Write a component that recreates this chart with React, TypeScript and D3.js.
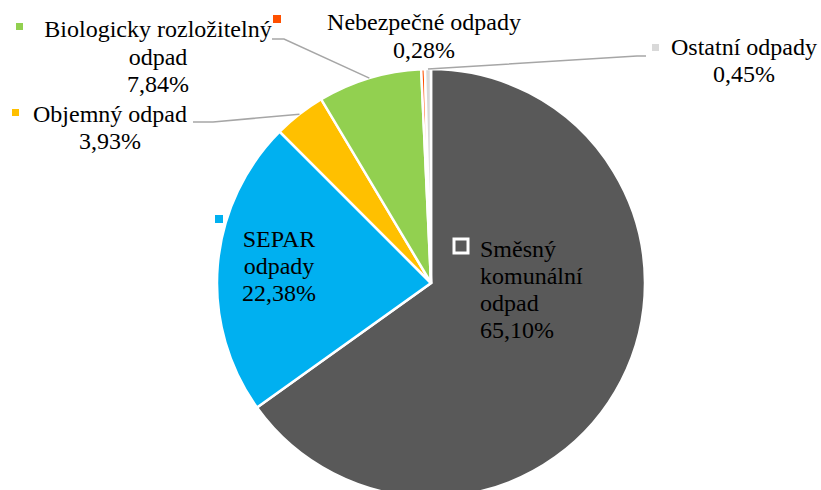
import React from "react";
import * as d3 from "d3";

const categories = [
  "Směsný komunální odpad",
  "SEPAR odpady",
  "Objemný odpad",
  "Biologicky rozložitelný odpad",
  "Nebezpečné odpady",
  "Ostatní odpady",
];
const values = [65.1, 22.38, 3.93, 7.84, 0.28, 0.45];
const valueLabels = ["65,10%", "22,38%", "3,93%", "7,84%", "0,28%", "0,45%"];
const colors = ["#595959", "#00B0F0", "#FFC000", "#92D050", "#FF5000", "#D9D9D9"];

// label layout (positions only)
const labelLines: string[][] = [
  ["Směsný", "komunální", "odpad"],
  ["SEPAR", "odpady"],
  ["Objemný odpad"],
  ["Biologicky rozložitelný", "odpad"],
  ["Nebezpečné odpady"],
  ["Ostatní odpady"],
];
const labelLayout = [
  { x: 480, y: 257, anchor: "start", dy: 27, key: [454, 239, 14], line: null },
  { x: 279, y: 247, anchor: "middle", dy: 27, key: [215, 215, 8], line: null },
  { x: 110, y: 122, anchor: "middle", dy: 27, key: [12, 109, 7], line: [[193, 122], [213, 122]] },
  { x: 158, y: 37, anchor: "middle", dy: 27.5, key: [16, 23, 7], line: [[272, 39], [284, 39]] },
  { x: 424, y: 30, anchor: "middle", dy: 28, key: [273, 15, 8], line: null },
  { x: 744, y: 55, anchor: "middle", dy: 27, key: [652, 44, 7], line: [[646, 56], [637, 56]] },
];

const W = 821;
const H = 490;
const cx = 431;
const cy = 283;
const R = 214;
const FONT = '"Liberation Serif", "DejaVu Serif", Times, serif';

export default function App() {
  const pie = d3
    .pie<number>()
    .sort(null)
    .value((d) => d)
    .startAngle(0)
    .endAngle(2 * Math.PI);
  const arcs = pie(values);
  const arc = d3.arc<d3.PieArcDatum<number>>().innerRadius(0).outerRadius(R);
  const edge = d3.arc<d3.PieArcDatum<number>>().innerRadius(R).outerRadius(R);

  return (
    <svg
      width={W}
      height={H}
      style={{ position: "absolute", left: 0, top: 0, background: "#fff", fontFamily: FONT }}
    >
      <g transform={`translate(${cx},${cy})`}>
        {arcs.map((a, i) => (
          <path key={i} d={arc(a) || ""} fill={colors[i]} stroke="#fff" strokeWidth={2.5} />
        ))}
      </g>
      {arcs.map((a, i) => {
        const L = labelLayout[i];
        if (!L.line) return null;
        const c = edge.centroid(a);
        const pts = [...L.line, [cx + c[0], cy + c[1]]];
        return (
          <polyline
            key={"l" + i}
            points={pts.map((p) => p.join(",")).join(" ")}
            fill="none"
            stroke="#A6A6A6"
            strokeWidth={1.5}
          />
        );
      })}
      {categories.map((cat, i) => {
        const L = labelLayout[i];
        const lines = [...labelLines[i], valueLabels[i]];
        const [kx, ky, ks] = L.key;
        return (
          <g key={"t" + i}>
            <rect
              x={kx}
              y={ky}
              width={ks}
              height={ks}
              fill={colors[i]}
              stroke={i === 0 ? "#fff" : "none"}
              strokeWidth={i === 0 ? 3 : 0}
            />
            <text fontSize={24} fill="#000" textAnchor={L.anchor as any} style={{ fontFamily: FONT }}>
              {lines.map((t, j) => (
                <tspan key={j} x={L.x} y={L.y + j * L.dy}>
                  {t}
                </tspan>
              ))}
            </text>
          </g>
        );
      })}
    </svg>
  );
}
